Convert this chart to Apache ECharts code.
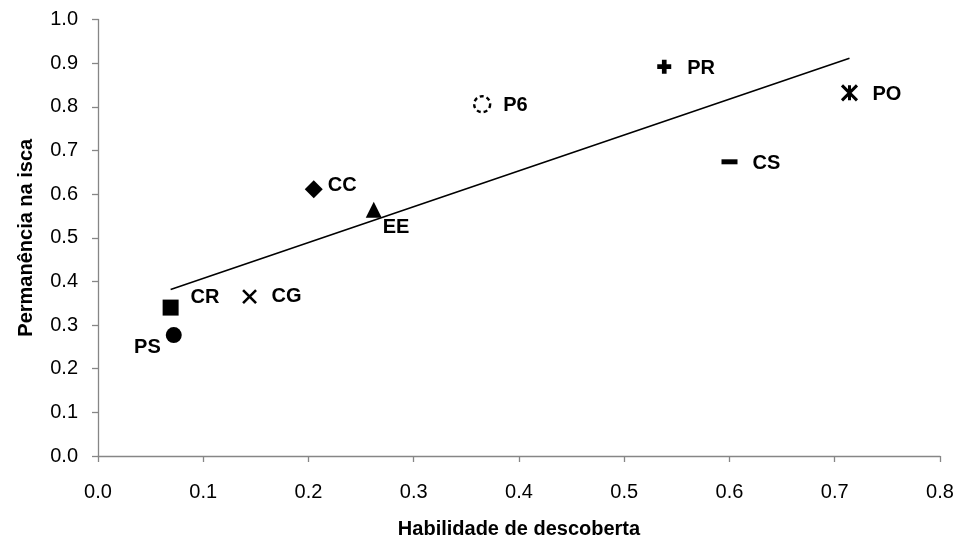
<!DOCTYPE html>
<html>
<head>
<meta charset="utf-8">
<script src="https://cdn.jsdelivr.net/npm/echarts@6/dist/echarts.min.js"></script>
<style>html,body{margin:0;padding:0;background:#fff}#c{width:960px;height:544px}</style>
</head>
<body>
<div id="c"></div>
<script>
// ---- data ----
const labels = ['CR', 'PS', 'CG', 'CC', 'EE', 'P6', 'PR', 'CS', 'PO'];
const xValues = [0.069, 0.072, 0.144, 0.205, 0.262, 0.365, 0.538, 0.600, 0.714];
const yValues = [0.340, 0.277, 0.365, 0.611, 0.564, 0.806, 0.892, 0.674, 0.832];
const xTicks = [0.0, 0.1, 0.2, 0.3, 0.4, 0.5, 0.6, 0.7, 0.8];
const yTicks = [0.0, 0.1, 0.2, 0.3, 0.4, 0.5, 0.6, 0.7, 0.8, 0.9, 1.0];
const xTitle = 'Habilidade de descoberta';
const yTitle = 'Permanência na isca';

// ---- styles (marker + label placement per point) ----
const FONT = '"Liberation Sans", Arial, sans-serif';
const markerStyle = {
  CR: { symbol: 'rect', size: 16, fill: '#000', stroke: null, lbl: ['left', 20, -10] },
  PS: { symbol: 'circle', size: 16, fill: '#000', stroke: null, lbl: ['right', -13, 12] },
  CG: { symbol: 'path://M0,0L10,10M10,0L0,10', size: 13, fill: 'none', stroke: 2.6, lbl: ['left', 22, 0] },
  CC: { symbol: 'diamond', size: 18, fill: '#000', stroke: null, lbl: ['left', 14, -4] },
  EE: { symbol: 'triangle', size: 16, fill: '#000', stroke: null, lbl: ['left', 9, 18] },
  P6: { symbol: 'circle', size: 16, fill: 'none', stroke: 2.4, dashed: true, lbl: ['left', 21, 1] },
  PR: { symbol: 'path://M4,0H8V4H12V8H8V12H4V8H0V4H4Z', size: 14, fill: '#000', stroke: null, lbl: ['left', 23, 2] },
  CS: { symbol: 'rect', size: [16, 5], fill: '#000', stroke: null, lbl: ['left', 23, 2] },
  PO: { symbol: 'path://M0,0L10,10M10,0L0,10M5,0L5,10', size: 15, fill: 'none', stroke: 3, lbl: ['left', 23, 2] }
};

const points = labels.map((name, i) => {
  const s = markerStyle[name];
  return {
    name: name,
    value: [xValues[i], yValues[i]],
    symbol: s.symbol,
    symbolSize: s.size,
    itemStyle: {
      color: s.fill === 'none' ? 'rgba(0,0,0,0)' : s.fill,
      borderColor: '#000',
      borderWidth: s.stroke || 0,
      borderType: s.dashed ? [4, 3] : 'solid',
      opacity: 1
    },
    label: {
      show: true,
      formatter: name,
      position: 'inside',
      align: s.lbl[0],
      verticalAlign: 'middle',
      offset: [s.lbl[1], s.lbl[2]],
      color: '#000',
      fontFamily: FONT,
      fontWeight: 'bold',
      fontSize: 20
    }
  };
});

// least-squares trend line over the data range
const n = xValues.length;
const mx = xValues.reduce((a, b) => a + b, 0) / n;
const my = yValues.reduce((a, b) => a + b, 0) / n;
let sxy = 0, sxx = 0;
for (let i = 0; i < n; i++) { sxy += (xValues[i] - mx) * (yValues[i] - my); sxx += (xValues[i] - mx) ** 2; }
const slope = sxy / sxx, icpt = my - slope * mx;
const xmin = Math.min(...xValues), xmax = Math.max(...xValues);
const trend = [[xmin, icpt + slope * xmin], [xmax, icpt + slope * xmax]];

const axisCol = '#868686';
const chart = echarts.init(document.getElementById('c'), null, { renderer: 'canvas' });
chart.setOption({
  animation: false,
  backgroundColor: '#fff',
  grid: { left: 98, right: 20, top: 19.5, bottom: 88, containLabel: false },
  xAxis: {
    type: 'value',
    min: xTicks[0], max: xTicks[xTicks.length - 1], interval: 0.1,
    name: xTitle, nameLocation: 'middle', nameGap: 63,
    nameTextStyle: { fontFamily: FONT, fontWeight: 'bold', fontSize: 20, color: '#000' },
    axisLine: { show: true, lineStyle: { color: axisCol, width: 1.3 } },
    axisTick: { show: true, length: 6, lineStyle: { color: axisCol, width: 1.3 } },
    axisLabel: { margin: 26, fontFamily: FONT, fontSize: 20, color: '#000', formatter: v => v.toFixed(1) },
    splitLine: { show: false }
  },
  yAxis: {
    type: 'value',
    min: yTicks[0], max: yTicks[yTicks.length - 1], interval: 0.1,
    name: yTitle, nameLocation: 'middle', nameGap: 62, nameRotate: 90,
    nameTextStyle: { fontFamily: FONT, fontWeight: 'bold', fontSize: 20, color: '#000' },
    axisLine: { show: true, lineStyle: { color: axisCol, width: 1.3 } },
    axisTick: { show: true, length: 6, lineStyle: { color: axisCol, width: 1.3 } },
    axisLabel: { margin: 20, fontFamily: FONT, fontSize: 20, color: '#000', formatter: v => v.toFixed(1) },
    splitLine: { show: false }
  },
  series: [
    {
      type: 'line', data: trend, symbol: 'none', silent: true,
      lineStyle: { color: '#000', width: 1.6 }, z: 1
    },
    {
      type: 'scatter', data: points, z: 3
    }
  ]
});
</script>
</body>
</html>
